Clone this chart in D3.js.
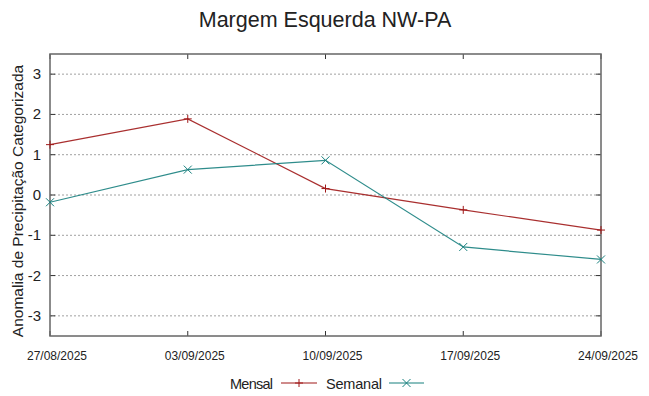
<!DOCTYPE html>
<html>
<head>
<meta charset="utf-8">
<script src="https://cdn.jsdelivr.net/npm/d3@7"></script>
<style>
  body { margin: 0; background: #fff; }
  text { font-family: "Liberation Sans", Arial, sans-serif; fill: #222; }
</style>
</head>
<body>
<div id="chartArea"></div>
<script>
const dates = ["27/08/2025", "03/09/2025", "10/09/2025", "17/09/2025", "24/09/2025"];
const mensal = [1.25, 1.89, 0.16, -0.37, -0.87];
const semanal = [-0.18, 0.63, 0.86, -1.29, -1.60];
const yTicks = [-3, -2, -1, 0, 1, 2, 3];

const w = 649, h = 396;
const margin = {top: 54, right: 48, bottom: 60, left: 50};

const svg = d3.select("#chartArea")
    .append("svg")
    .attr("width", w)
    .attr("height", h);

const x = d3.scalePoint()
    .domain(dates)
    .range([margin.left, w - margin.right]);

const y = d3.scaleLinear()
    .domain([-3.5, 3.5])
    .range([h - margin.bottom, margin.top]);

// grid
svg.append("g")
    .selectAll("line")
    .data(yTicks)
    .enter()
    .append("line")
    .attr("x1", margin.left)
    .attr("x2", w - margin.right)
    .attr("y1", d => y(d))
    .attr("y2", d => y(d))
    .attr("stroke", "#a0a0a0")
    .attr("stroke-width", 1)
    .attr("stroke-dasharray", "2,2");

// ticks (inward, mirrored)
const tickLen = 5;
const ticks = svg.append("g").attr("stroke", "#333").attr("stroke-width", 1);
yTicks.forEach(t => {
    ticks.append("line").attr("x1", margin.left).attr("x2", margin.left + tickLen)
        .attr("y1", y(t)).attr("y2", y(t));
    ticks.append("line").attr("x1", w - margin.right).attr("x2", w - margin.right - tickLen)
        .attr("y1", y(t)).attr("y2", y(t));
});
dates.forEach(d => {
    ticks.append("line").attr("x1", x(d)).attr("x2", x(d))
        .attr("y1", h - margin.bottom).attr("y2", h - margin.bottom - tickLen);
    ticks.append("line").attr("x1", x(d)).attr("x2", x(d))
        .attr("y1", margin.top).attr("y2", margin.top + tickLen);
});

// border
svg.append("rect")
    .attr("x", margin.left)
    .attr("y", margin.top)
    .attr("width", w - margin.left - margin.right)
    .attr("height", h - margin.top - margin.bottom)
    .attr("fill", "none")
    .attr("stroke", "#666")
    .attr("stroke-width", 1.5);

// tick labels
svg.append("g")
    .selectAll("text")
    .data(yTicks)
    .enter()
    .append("text")
    .attr("x", margin.left - 9)
    .attr("y", d => y(d) + 5)
    .attr("text-anchor", "end")
    .attr("font-size", "15px")
    .text(d => d);

svg.append("g")
    .selectAll("text")
    .data(dates)
    .enter()
    .append("text")
    .attr("x", d => x(d) + 7)
    .attr("y", h - 36)
    .attr("text-anchor", "middle")
    .attr("font-size", "12px")
    .text(d => d);

// title + axis label
svg.append("text")
    .attr("x", 325)
    .attr("y", 27)
    .attr("text-anchor", "middle")
    .attr("font-size", "21.5px")
    .text("Margem Esquerda NW-PA");

svg.append("text")
    .attr("transform", `translate(23,${(margin.top + h - margin.bottom) / 2 + 6}) rotate(-90)`)
    .attr("text-anchor", "middle")
    .attr("font-size", "15.5px")
    .text("Anomalia de Precipitação Categorizada");

// series
const series = [
    {name: "Mensal", values: mensal, color: "#a01818", mark: "plus"},
    {name: "Semanal", values: semanal, color: "#17807e", mark: "cross"}
];

const line = d3.line()
    .x((d, i) => x(dates[i]))
    .y(d => y(d));

function marker(g, cx, cy, type, color) {
    const s = 4;
    const p = type === "plus"
        ? `M${cx - s},${cy}L${cx + s},${cy}M${cx},${cy - s}L${cx},${cy + s}`
        : `M${cx - s},${cy - s}L${cx + s},${cy + s}M${cx - s},${cy + s}L${cx + s},${cy - s}`;
    g.append("path").attr("d", p).attr("stroke", color).attr("stroke-width", 1).attr("fill", "none");
}

series.forEach(s => {
    const g = svg.append("g");
    g.append("path")
        .datum(s.values)
        .attr("d", line)
        .attr("fill", "none")
        .attr("stroke", s.color)
        .attr("stroke-width", 1.2)
        .attr("stroke-opacity", 0.9);
    s.values.forEach((v, i) => marker(g, x(dates[i]), y(v), s.mark, s.color));
});

// legend
const legend = [
    {textEnd: 273, x1: 281, x2: 317},
    {textEnd: 382, x1: 389, x2: 424}
];
series.forEach((s, i) => {
    const L = legend[i];
    svg.append("text")
        .attr("x", L.textEnd)
        .attr("y", 389)
        .attr("text-anchor", "end")
        .attr("font-size", "14.5px")
        .attr("textLength", i === 0 ? 43 : 56)
        .text(s.name);
    svg.append("line")
        .attr("x1", L.x1).attr("x2", L.x2)
        .attr("y1", 383).attr("y2", 383)
        .attr("stroke", s.color)
        .attr("stroke-width", 1.2);
    marker(svg, (L.x1 + L.x2) / 2, 383, s.mark, s.color);
});
</script>
</body>
</html>
